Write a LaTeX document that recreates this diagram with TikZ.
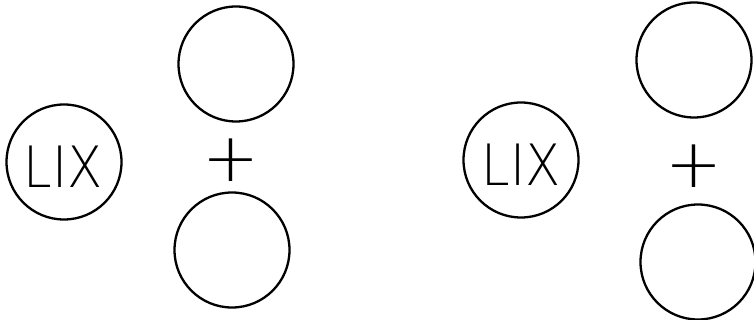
\documentclass[tikz,border=0pt]{standalone}
\usepackage{fontspec}
\newfontfamily\lixfont{DejaVu Sans ExtraLight}
\begin{document}
\begin{tikzpicture}[x=1pt,y=-1pt,
  ring/.style={circle,draw,line width=2.3pt,minimum size=115pt,inner sep=0pt},
  lixtext/.style={inner sep=0pt,font=\lixfont\fontsize{57}{57}\selectfont},
  plustext/.style={inner sep=0pt,font=\lixfont\fontsize{68}{68}\selectfont}]
\useasboundingbox (0,0) rectangle (754,320);
\fill[white] (0,0) rectangle (754,320);
% left group
\node[ring] (lixA) at (64,162) {};
\node[lixtext] (lixAt) at (63,167) {\scalebox{0.9}[1]{LIX}};
\node[ring] (topA) at (236,64) {};
\node[plustext] (plusA) at (231,160) {+};
\node[ring] (botA) at (232,250) {};
% right group
\node[ring] (lixB) at (521,160) {};
\node[lixtext] (lixBt) at (521,165) {\scalebox{0.9}[1]{LIX}};
\node[ring] (topB) at (694,60) {};
\node[plustext] (plusB) at (694,166) {+};
\node[ring] (botB) at (698,262) {};
\end{tikzpicture}
\end{document}
